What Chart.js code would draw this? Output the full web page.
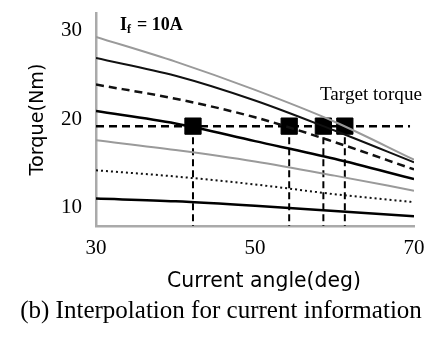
<!DOCTYPE html>
<html>
<head>
<meta charset="utf-8">
<script src="https://cdn.jsdelivr.net/npm/chart.js@4.4.1/dist/chart.umd.min.js"></script>
<style>
  body { margin: 0; background: #fff; }
  #wrap { width: 444px; height: 338px; }
</style>
</head>
<body>
<div id="wrap"><canvas id="torqueChart" width="444" height="338"></canvas></div>
<script>
// values
const angles = [30, 40, 50, 60, 70];
const curveA = [29.3, 26.5, 23.3, 19.7, 15.4];   // gray, top
const curveB = [26.9, 24.9, 22.1, 18.7, 15.1];   // black
const curveC = [23.9, 22.3, 20.2, 17.4, 14.3];   // dashed
const curveD = [20.9, 19.5, 17.5, 15.5, 13.2];   // black, thick
const curveE = [17.6, 16.5, 15.2, 13.6, 11.9];   // gray
const curveF = [14.2, 13.5, 12.6, 11.5, 10.6];   // dotted
const curveG = [11.0, 10.7, 10.2, 9.6, 9.0];     // black, bottom

const targetTorque = 19.2;
const targetRange = [30, 69.5];
const markerAngles = [42.2, 54.3, 58.6, 61.3];

const xTicks = [30, 50, 70];
const yTicks = [10, 20, 30];
const yMin = 7.9, yMax = 32;

function toPoints(xs, ys) {
    return xs.map((x, i) => ({ x: x, y: ys[i] }));
}

function curve(values, color, width, dash) {
    return {
        data: toPoints(angles, values),
        borderColor: color,
        borderWidth: width,
        borderDash: dash || [],
        pointRadius: 0,
        cubicInterpolationMode: 'monotone',
        fill: false
    };
}

// font size that makes text about a given width
const measureCtx = document.createElement('canvas').getContext('2d');
function fitSize(text, family, width, weight) {
    measureCtx.font = `${weight || ''} 100px ${family}`;
    return 100 * width / measureCtx.measureText(text).width;
}

const datasets = [
    curve(curveA, '#9a9a9a', 2),
    curve(curveB, '#111', 2),
    curve(curveC, '#111', 2.5, [8, 5]),
    curve(curveD, '#000', 2.5),
    curve(curveE, '#9a9a9a', 2),
    curve(curveF, '#111', 2, [2, 3]),
    curve(curveG, '#000', 2.5)
];

// target torque line
datasets.push({
    data: targetRange.map(x => ({ x: x, y: targetTorque })),
    borderColor: '#000',
    borderWidth: 2.5,
    borderDash: [8, 5],
    pointRadius: 0
});

// drop lines from each crossing down to the axis
markerAngles.forEach(a => {
    datasets.push({
        data: [{ x: a, y: targetTorque }, { x: a, y: yMin }],
        borderColor: '#000',
        borderWidth: 2,
        borderDash: [7, 4],
        pointRadius: 0
    });
});

// crossing markers
datasets.push({
    data: markerAngles.map(a => ({ x: a, y: targetTorque })),
    showLine: false,
    pointStyle: 'rect',
    pointRadius: 11.5,
    backgroundColor: '#000',
    borderColor: '#000',
    borderWidth: 1
});

const sansFamily = '"DejaVu Sans"';
const serifFamily = '"Liberation Serif"';

const textPlugin = {
    id: 'texts',
    afterDraw(chart) {
        const ctx = chart.ctx;
        ctx.save();
        ctx.fillStyle = '#000';
        ctx.textBaseline = 'middle';
        ctx.textAlign = 'left';

        ctx.font = `bold 18px ${serifFamily}`;
        ctx.fillText('I', 120, 25);
        ctx.font = `bold 12px ${serifFamily}`;
        ctx.fillText('f', 127, 30);
        ctx.font = `bold 18px ${serifFamily}`;
        ctx.fillText('= 10A', 137, 25);

        ctx.font = `${fitSize('Target torque', serifFamily, 102)}px ${serifFamily}`;
        ctx.fillText('Target torque', 320, 95);

        ctx.textAlign = 'center';
        ctx.font = `${fitSize('Current angle(deg)', sansFamily, 194)}px ${sansFamily}`;
        ctx.fillText('Current angle(deg)', 264, 282);

        ctx.font = `${fitSize('(b) Interpolation for current information', serifFamily, 402)}px ${serifFamily}`;
        ctx.fillText('(b) Interpolation for current information', 221, 311);
        ctx.restore();
    }
};

new Chart(document.getElementById('torqueChart'), {
    type: 'line',
    data: { datasets: datasets },
    plugins: [textPlugin],
    options: {
        responsive: false,
        devicePixelRatio: 1,
        animation: false,
        events: [],
        layout: { padding: { top: 13, right: 30, left: 0, bottom: 0 } },
        plugins: { legend: { display: false }, tooltip: { enabled: false } },
        scales: {
            x: {
                type: 'linear',
                min: 30,
                max: 70,
                grid: { display: false, drawTicks: false },
                border: { color: '#aaa', width: 2.5 },
                afterBuildTicks: s => { s.ticks = xTicks.map(v => ({ value: v })); },
                afterFit: s => { s.height = 112; },
                ticks: {
                    padding: 10,
                    color: '#000',
                    font: { family: serifFamily, size: 21 },
                    maxRotation: 0
                }
            },
            y: {
                type: 'linear',
                min: yMin,
                max: yMax,
                grid: { display: false, drawTicks: false },
                border: { color: '#aaa', width: 2.5 },
                afterBuildTicks: s => { s.ticks = yTicks.map(v => ({ value: v })); },
                afterFit: s => { s.width = 96; s.paddingTop = 0; s.paddingBottom = 0; },
                ticks: {
                    padding: 14,
                    color: '#000',
                    font: { family: serifFamily, size: 21 }
                },
                title: {
                    display: true,
                    text: 'Torque(Nm)',
                    color: '#000',
                    font: { family: sansFamily, size: fitSize('Torque(Nm)', sansFamily, 112) },
                    padding: { top: 26, bottom: 0 }
                }
            }
        }
    }
});
</script>
</body>
</html>
